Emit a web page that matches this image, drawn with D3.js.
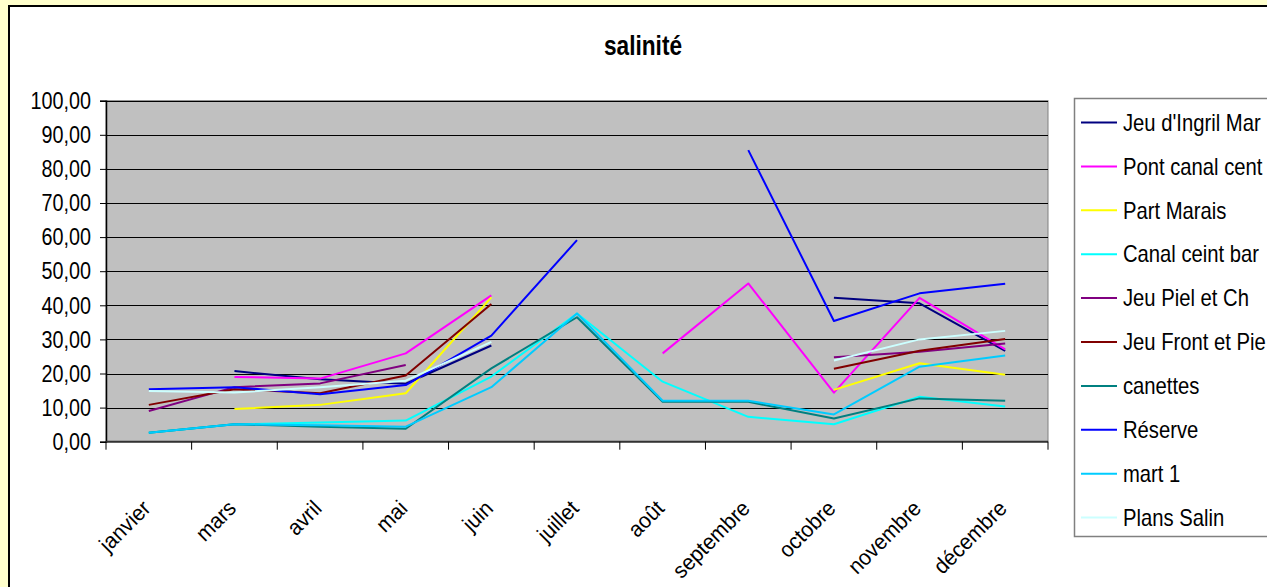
<!DOCTYPE html>
<html>
<head>
<meta charset="utf-8">
<script src="https://cdn.jsdelivr.net/npm/d3@7"></script>
<style>
  html, body { margin: 0; padding: 0; background: #FFFFCC; }
  svg { display: block; }
  text { font-family: "Liberation Sans", Arial, sans-serif; fill: #000; }
</style>
</head>
<body>
<svg id="chart" width="1267" height="587"></svg>
<script>
const months = ["janvier","mars","avril","mai","juin","juillet","août","septembre","octobre","novembre","décembre"];
const yTicks = [0,10,20,30,40,50,60,70,80,90,100];
const seriesNames = ["Jeu d'Ingril Mar","Pont canal cent","Part Marais","Canal ceint bar","Jeu Piel et Ch","Jeu Front et Pie","canettes","Réserve","mart 1","Plans Salin"];
const seriesColors = ["#000080","#FF00FF","#FFFF00","#00FFFF","#800080","#800000","#008080","#0000FF","#00CCFF","#CCFFFF"];

const jeuIngril  = [null, 20.7, 18.3, 17.0, 28.2, null, null, null, 42.2, 40.6, 26.6];
const pontCanal  = [null, 19.0, 18.5, 25.9, 42.9, null, 25.9, 46.4, 14.4, 42.2, 27.1];
const partMarais = [null,  9.6, 10.8, 14.2, 42.3, null, null, null, 15.2, 23.0, 19.6];
const canalCeint = [2.6,  5.1,  5.6,  6.2, 19.1, 37.6, 17.6,  7.3,  5.1, 13.2, 10.3];
const jeuPiel    = [9.0, 16.0, 17.1, 22.5, null, null, null, null, 24.8, 26.4, 28.8];
const jeuFront   = [10.8, 15.4, 14.2, 19.4, 40.4, null, null, null, 21.4, 26.7, 30.1];
const canettes   = [2.6,  5.1,  4.4,  3.8, 21.5, 36.5, 11.7, 11.7,  6.8, 12.7, 12.0];
const reserve    = [15.4, 16.0, 13.9, 16.6, 31.1, 59.1, null, 85.5, 35.4, 43.5, 46.3];
const mart1      = [2.6,  5.1,  4.8,  4.4, 16.0, 37.6, 12.0, 12.0,  8.0, 22.0, 25.3];
const plansSalin = [14.9, 14.4, 16.0, 17.9, 29.3, null, null, null, 23.8, 30.0, 32.5];

const seriesValues = [jeuIngril, pontCanal, partMarais, canalCeint, jeuPiel, jeuFront, canettes, reserve, mart1, plansSalin];

const svg = d3.select("#chart");
const SX = 0.84;

// chart area background
svg.append("rect").attr("x", 0).attr("y", 0).attr("width", 1267).attr("height", 587).attr("fill", "#FFFFCC");
svg.append("rect").attr("x", 9).attr("y", 6).attr("width", 1270).attr("height", 600)
  .attr("fill", "#fff").attr("stroke", "#000").attr("stroke-width", 2);

const plot = { left: 106, right: 1048, top: 100.7, bottom: 441.7 };

const x = d3.scaleBand().domain(months).range([plot.left, plot.right]).padding(0);
const y = d3.scaleLinear().domain([0, 100]).range([plot.bottom, plot.top]);

// plot background
svg.append("rect").attr("x", plot.left).attr("y", plot.top)
  .attr("width", plot.right - plot.left).attr("height", plot.bottom - plot.top)
  .attr("fill", "#C0C0C0").attr("stroke", "#808080").attr("stroke-width", 1);

// gridlines
svg.append("g").selectAll("line").data(yTicks.filter(t => t > 0)).join("line")
  .attr("x1", plot.left).attr("x2", plot.right)
  .attr("y1", d => Math.round(y(d)) + 0.5).attr("y2", d => Math.round(y(d)) + 0.5)
  .attr("stroke", "#000").attr("stroke-width", 1);

// title
svg.append("text").attr("transform", `translate(643,55) scale(${SX},1)`)
  .attr("text-anchor", "middle").attr("font-size", 27).attr("font-weight", "bold").text("salinité");

// y axis
const yAxis = d3.axisLeft(y).tickValues(yTicks).tickSize(6).tickPadding(0)
  .tickFormat(d => d3.format(".2f")(d).replace(".", ","));
const gy = svg.append("g").attr("transform", `translate(${plot.left},0)`).call(yAxis);
gy.select(".domain").attr("stroke", "#000").attr("stroke-width", 1.5);
gy.selectAll(".tick line").attr("stroke", "#000");
gy.selectAll(".tick text").remove();
svg.append("g").selectAll("text").data(yTicks).join("text")
  .attr("transform", d => `translate(91,${y(d)}) scale(0.86,1)`)
  .attr("dy", "0.36em").attr("text-anchor", "end").attr("font-size", 23)
  .text(d => d3.format(".2f")(d).replace(".", ","));

// x axis
svg.append("line").attr("x1", plot.left).attr("x2", plot.right)
  .attr("y1", plot.bottom).attr("y2", plot.bottom).attr("stroke", "#333").attr("stroke-width", 2);
const bounds = months.map(m => x(m)).concat([x(months[months.length - 1]) + x.bandwidth()]);
svg.append("g").selectAll("line").data(bounds).join("line")
  .attr("x1", d => d).attr("x2", d => d).attr("y1", plot.bottom).attr("y2", plot.bottom + 8)
  .attr("stroke", "#000").attr("stroke-width", 1);
svg.append("g").selectAll("text").data(months).join("text")
  .attr("transform", d => `translate(${x(d) + x.bandwidth() / 2 + 3},${plot.bottom + 68}) rotate(-45) scale(0.95,1)`)
  .attr("text-anchor", "end").attr("font-size", 22).text(d => d);

// lines
const line = d3.line().defined(d => d.v != null).x(d => d.x).y(d => y(d.v));
seriesValues.forEach((vals, i) => {
  const pts = vals.map((v, j) => ({ x: x(months[j]) + x.bandwidth() / 2, v }));
  svg.append("path").datum(pts).attr("d", line)
    .attr("fill", "none").attr("stroke", seriesColors[i]).attr("stroke-width", 2)
    .attr("stroke-linejoin", "round");
});

// legend
svg.append("rect").attr("x", 1074.5).attr("y", 98.5).attr("width", 220).attr("height", 438)
  .attr("fill", "#fff").attr("stroke", "#808080").attr("stroke-width", 1.5);
const lg = svg.append("g").selectAll("g").data(seriesNames).join("g")
  .attr("transform", (d, i) => `translate(0,${122.5 + i * 43.9})`);
lg.append("line").attr("x1", 1081).attr("x2", 1117).attr("y1", 0).attr("y2", 0)
  .attr("stroke", (d, i) => seriesColors[i]).attr("stroke-width", 2);
lg.append("text").attr("transform", `translate(1123,0) scale(0.88,1)`)
  .attr("dy", "0.36em").attr("font-size", 23).text(d => d);
</script>
</body>
</html>
